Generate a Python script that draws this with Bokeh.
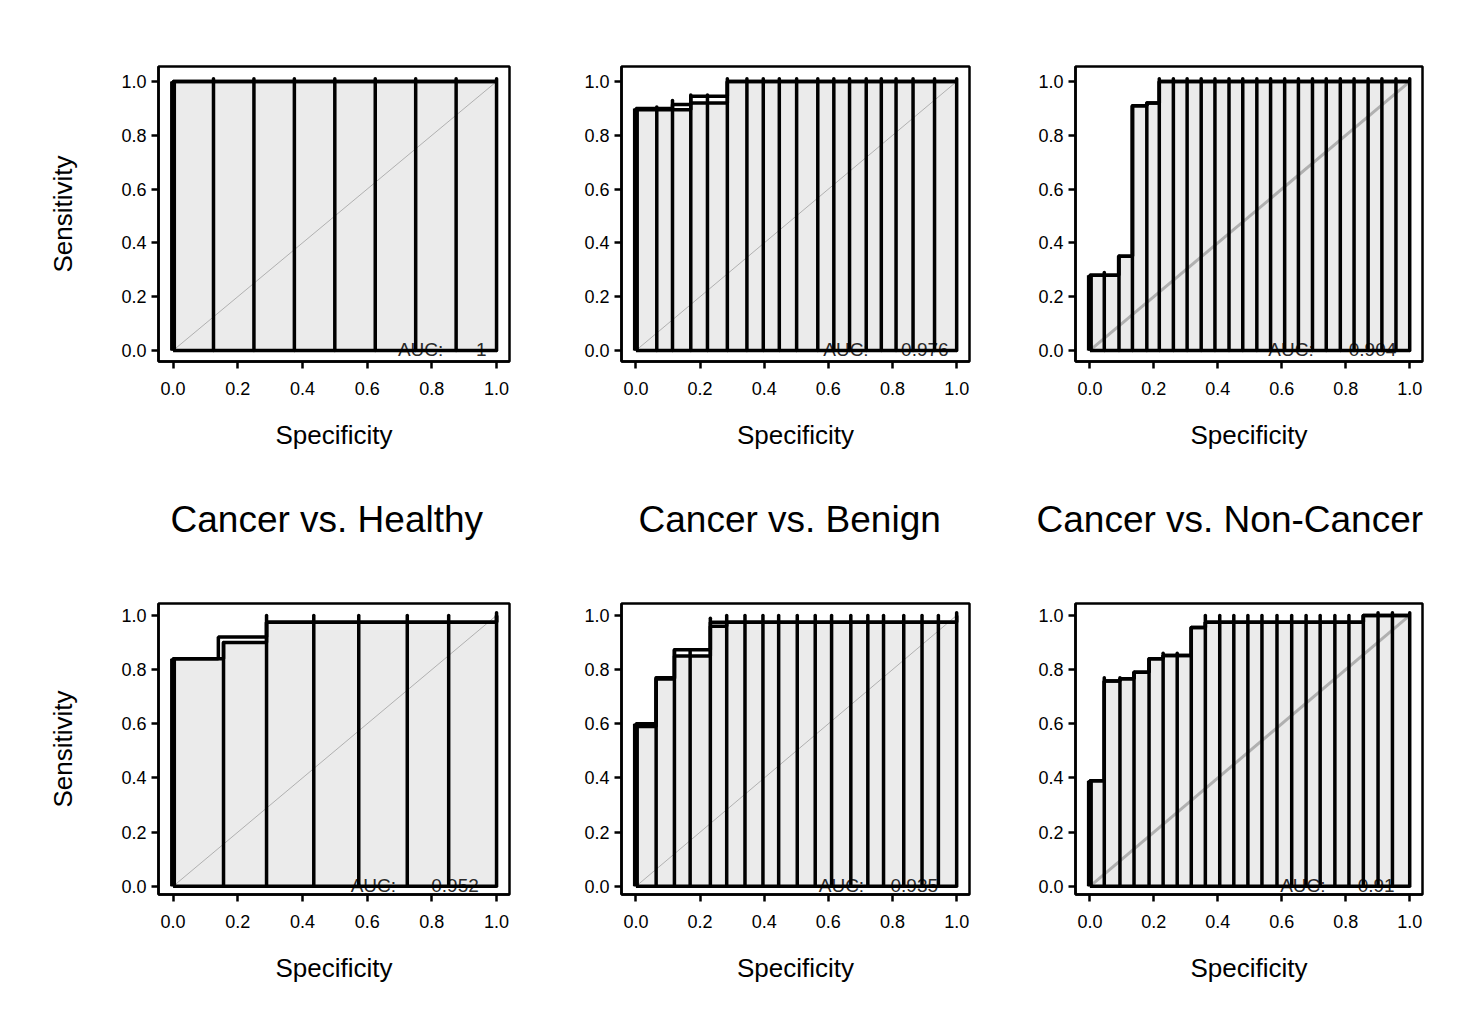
from bokeh.plotting import figure
from bokeh.layouts import column, row
from bokeh.models import FixedTicker, PrintfTickFormatter, Title
from bokeh.core.properties import value
from bokeh.embed import file_html
from bokeh.resources import INLINE

FONT = "Liberation Sans"

tick_vals = [0.0, 0.2, 0.4, 0.6, 0.8, 1.0]
tick_labels = ["0.0", "0.2", "0.4", "0.6", "0.8", "1.0"]
titles = ["Cancer vs. Healthy", "Cancer vs. Benign", "Cancer vs. Non-Cancer"]
auc_values = ["1", "0.976", "0.904", "0.952", "0.935", "0.91"]

# --- top row ---
# ROC outline (x = specificity axis, y = sensitivity)
curve1_x = [0, 0, 1.0]
curve1_y = [0, 1.0, 1.0]
fill1_x = [0, 0, 1.0]
fill1_y = [0, 1.0, 1.0]
bars1_x = [0.125, 0.25, 0.375, 0.5, 0.625, 0.75, 0.875, 1.0]
bars1_top = [1.01, 1.01, 1.01, 1.01, 1.01, 1.01, 1.01, 1.01]

curve2_x = [0, 0, 0.114, 0.114, 0.171, 0.171, 0.285, 0.285, 1.0]
curve2_y = [0, 0.90, 0.90, 0.915, 0.915, 0.945, 0.945, 1.0, 1.0]
fill2_x = [0, 0, 0.171, 0.171, 0.285, 0.285, 1.0]
fill2_y = [0, 0.895, 0.895, 0.92, 0.92, 1.0, 1.0]
bars2_x = [0.065, 0.114, 0.171, 0.223, 0.285, 0.346, 0.397, 0.447, 0.501,
           0.567, 0.617, 0.666, 0.718, 0.765, 0.811, 0.864, 0.931, 1.0]
bars2_top = [0.905, 0.93, 0.95, 0.95, 1.01, 1.01, 1.01, 1.01, 1.01,
             1.01, 1.01, 1.01, 1.01, 1.01, 1.01, 1.01, 1.01, 1.01]

curve3_x = [0, 0, 0.09, 0.09, 0.133, 0.133, 0.178, 0.178, 0.217, 0.217, 1.0]
curve3_y = [0, 0.28, 0.28, 0.35, 0.35, 0.91, 0.91, 0.92, 0.92, 1.0, 1.0]
fill3_x = [0, 0, 0.09, 0.09, 0.133, 0.133, 0.178, 0.178, 0.217, 0.217, 1.0]
fill3_y = [0, 0.28, 0.28, 0.35, 0.35, 0.91, 0.91, 0.92, 0.92, 1.0, 1.0]
bars3_x = [0.045, 0.091, 0.133, 0.178, 0.217, 0.261, 0.304, 0.348, 0.391, 0.435,
           0.478, 0.522, 0.565, 0.609, 0.652, 0.696, 0.739, 0.783, 0.826, 0.870,
           0.913, 0.957, 1.0]
bars3_top = [0.29, 0.35, 0.91, 0.92, 1.01, 1.01, 1.01, 1.01, 1.01, 1.01,
             1.01, 1.01, 1.01, 1.01, 1.01, 1.01, 1.01, 1.01, 1.01, 1.01,
             1.01, 1.01, 1.01]

# --- bottom row ---
curve4_x = [0, 0, 0.14, 0.14, 0.289, 0.289, 1.0, 1.0]
curve4_y = [0, 0.84, 0.84, 0.92, 0.92, 0.975, 0.975, 1.0]
fill4_x = [0, 0, 0.156, 0.156, 0.289, 0.289, 1.0, 1.0]
fill4_y = [0, 0.84, 0.84, 0.90, 0.90, 0.975, 0.975, 1.0]
bars4_x = [0.156, 0.289, 0.435, 0.574, 0.724, 0.852, 1.0]
bars4_top = [0.90, 1.0, 1.0, 1.0, 1.0, 1.0, 1.01]

curve5_x = [0, 0, 0.063, 0.063, 0.12, 0.12, 0.232, 0.232, 1.0, 1.0]
curve5_y = [0, 0.60, 0.60, 0.77, 0.77, 0.873, 0.873, 0.975, 0.975, 1.0]
fill5_x = [0, 0, 0.063, 0.063, 0.12, 0.12, 0.232, 0.232, 0.283, 0.283, 1.0]
fill5_y = [0, 0.59, 0.59, 0.765, 0.765, 0.85, 0.85, 0.96, 0.96, 0.975, 0.975]
bars5_x = [0.063, 0.12, 0.169, 0.232, 0.283, 0.34, 0.396, 0.445, 0.503,
           0.559, 0.61, 0.67, 0.723, 0.772, 0.835, 0.892, 0.943, 1.0]
bars5_top = [0.77, 0.873, 0.873, 0.99, 1.0, 1.0, 1.0, 1.0, 1.0,
             1.0, 1.0, 1.0, 1.0, 1.0, 1.0, 1.0, 1.0, 1.01]

curve6_x = [0, 0, 0.045, 0.045, 0.094, 0.094, 0.138, 0.138, 0.185, 0.185,
            0.229, 0.229, 0.317, 0.317, 0.361, 0.361, 0.855, 0.855, 1.0]
curve6_y = [0, 0.39, 0.39, 0.758, 0.758, 0.766, 0.766, 0.79, 0.79, 0.84,
            0.84, 0.852, 0.852, 0.955, 0.955, 0.975, 0.975, 1.0, 1.0]
fill6_x = curve6_x
fill6_y = curve6_y
bars6_x = [0.045, 0.094, 0.138, 0.185, 0.229, 0.273, 0.317, 0.361, 0.406, 0.45,
           0.494, 0.538, 0.585, 0.631, 0.676, 0.72, 0.766, 0.81, 0.855, 0.901,
           0.946, 1.0]
bars6_top = [0.77, 0.77, 0.79, 0.84, 0.86, 0.86, 0.955, 1.0, 1.0, 1.0,
             1.0, 1.0, 1.0, 1.0, 1.0, 1.0, 1.0, 1.0, 1.0, 1.01,
             1.01, 1.01]

# where the "AUC:" note starts / its value ends, per panel (x in data units)
auc_start = [0.695, 0.584, 0.558, 0.549, 0.57, 0.595]
auc_end = [0.969, 0.975, 0.958, 0.945, 0.942, 0.953]
title_offset = [12, 17, -39]


def roc_panel(i, cx, cy, fx, fy, bx, btop, width, height, borders, y_rng,
              diag_width, ylabel=None, title=None):
    left, right, top, bottom = borders
    p = figure(width=width, height=height, x_range=(-0.045, 1.04), y_range=y_rng,
               output_backend="svg", toolbar_location=None, title=None,
               min_border_left=left, min_border_right=right,
               min_border_top=top, min_border_bottom=bottom)
    p.grid.visible = False
    p.outline_line_color = "black"
    p.outline_line_width = 2.5
    p.background_fill_color = "white"

    for ax in (p.xaxis, p.yaxis):
        ax.ticker = FixedTicker(ticks=tick_vals)
        ax.formatter = PrintfTickFormatter(format="%.1f")
        ax.major_label_overrides = dict(zip(tick_vals, tick_labels))
        ax.axis_line_width = 2.5
        ax.major_tick_line_width = 2.5
        ax.major_tick_out = 7
        ax.major_tick_in = 0
        ax.minor_tick_line_color = None
        ax.major_label_text_font = FONT
        ax.major_label_text_font_size = "18px"
        ax.major_label_text_color = "black"
        ax.axis_label_text_font = FONT
        ax.axis_label_text_font_size = "26px"
        ax.axis_label_text_font_style = "normal"
        ax.axis_label_text_color = "black"
    p.xaxis.axis_label = "Specificity"
    p.xaxis.major_label_standoff = 13
    p.xaxis.axis_label_standoff = 22
    p.yaxis.major_label_standoff = 5
    if ylabel:
        p.yaxis.axis_label = ylabel
        p.yaxis.axis_label_standoff = 40

    if title:
        t = Title(text=title, align="left", offset=title_offset[i],
                  text_font=FONT, text_font_size="37px",
                  text_font_style="normal", text_color="black", standoff=88)
        p.add_layout(t, "below")

    # shaded area under the curve
    p.patch(fx + [1.0, 0], fy + [0, 0], fill_color="#ebebeb", line_color=None)
    # chance diagonal
    p.line([0, 1], [0, 1], line_color="#b0b0b0", line_width=diag_width)
    p.text(x=[auc_start[i]], y=[0.004], text=["AUC:"], text_align="left",
           text_baseline="alphabetic", text_font=value(FONT),
           text_font_size="19px", text_color="#2a2a2a")
    p.text(x=[auc_end[i]], y=[0.004], text=[auc_values[i]], text_align="right",
           text_baseline="alphabetic", text_font=value(FONT),
           text_font_size="19px", text_color="#2a2a2a")
    # vertical bars
    p.segment(x0=bx, y0=[0] * len(bx), x1=bx, y1=btop, line_color="black",
              line_width=3.5, line_cap="round")
    p.line([0, 1], [0, 0], line_color="black", line_width=3.5)
    p.segment(x0=[0], y0=[0], x1=[0], y1=[cy[1]], line_color="black",
              line_width=6)
    p.line(fx, fy, line_color="black", line_width=3.5)
    p.line(cx, cy, line_color="black", line_width=3.5)
    return p


top_h = 585
bot_h = 405
top_y = (-0.041, 1.056)
bot_y = (-0.03, 1.044)
p1 = roc_panel(0, curve1_x, curve1_y, fill1_x, fill1_y, bars1_x, bars1_top,
               566, top_h, (158, 57, 66, 224), top_y, 1, ylabel="Sensitivity",
               title=titles[0])
p2 = roc_panel(1, curve2_x, curve2_y, fill2_x, fill2_y, bars2_x, bars2_top,
               456, top_h, (55, 53, 66, 224), top_y, 1, title=titles[1])
p3 = roc_panel(2, curve3_x, curve3_y, fill3_x, fill3_y, bars3_x, bars3_top,
               432, top_h, (53, 32, 66, 224), top_y, 3, title=titles[2])
p4 = roc_panel(3, curve4_x, curve4_y, fill4_x, fill4_y, bars4_x, bars4_top,
               566, bot_h, (158, 57, 18, 96), bot_y, 1, ylabel="Sensitivity")
p5 = roc_panel(4, curve5_x, curve5_y, fill5_x, fill5_y, bars5_x, bars5_top,
               456, bot_h, (55, 53, 18, 96), bot_y, 1)
p6 = roc_panel(5, curve6_x, curve6_y, fill6_x, fill6_y, bars6_x, bars6_top,
               432, bot_h, (53, 32, 18, 96), bot_y, 3)

p = column(row(p1, p2, p3), row(p4, p5, p6))

open("out.html", "w").write(file_html(p, INLINE))
